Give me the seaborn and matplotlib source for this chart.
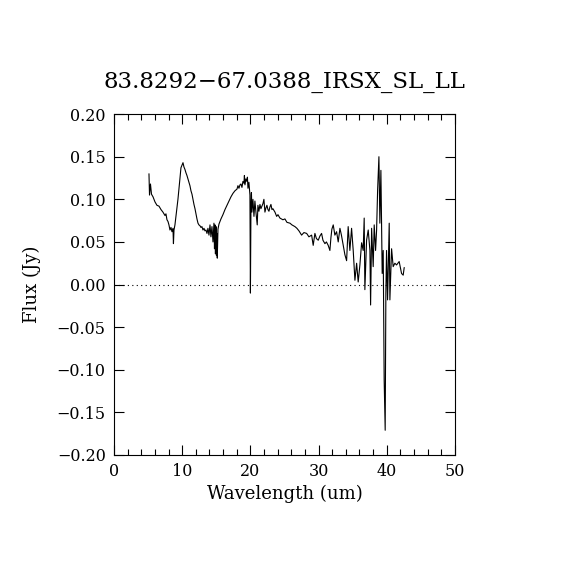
import numpy as np
import pandas as pd
import matplotlib
matplotlib.use("Agg")
import matplotlib.pyplot as plt
import seaborn as sns

# スペクトルのデータ
wavelength = [5.13, 5.21, 5.35, 5.50, 5.72, 6.01, 6.30, 6.60, 6.89, 7.18, 7.48, 7.62, 7.77, 7.92,
              8.06, 8.21, 8.36, 8.50, 8.65, 8.72, 8.80, 8.94, 9.09, 9.24, 9.38, 9.53, 9.68, 9.82,
              9.97, 10.12, 10.26, 10.41, 10.56, 10.70, 10.85, 11.00, 11.14, 11.29, 11.44, 11.58,
              11.73, 11.88, 12.02, 12.17, 12.32, 12.46, 12.61, 12.76, 12.90, 13.05, 13.20, 13.34,
              13.49, 13.64, 13.78, 13.93, 14.08, 14.22, 14.37, 14.52, 14.66, 14.74, 14.81, 14.88,
              14.96, 15.03, 15.10, 15.15, 15.25, 15.40, 15.69, 15.98, 16.28, 16.57, 16.86, 17.16,
              17.45, 17.74, 18.04, 18.18, 18.33, 18.48, 18.62, 18.77, 18.91, 19.06, 19.13, 19.21,
              19.35, 19.50, 19.57, 19.65, 19.79, 19.94, 20.01, 20.09, 20.16, 20.23, 20.38, 20.53,
              20.67, 20.82, 21.01, 21.11, 21.26, 21.41, 21.55, 21.70, 21.85, 21.99, 22.14, 22.29,
              22.43, 22.58, 22.73, 22.87, 23.02, 23.17, 23.31, 23.61, 23.86, 24.05, 24.34, 24.78,
              25.07, 25.37, 25.81, 26.10, 26.54, 26.83, 27.13, 27.52, 27.86, 28.26, 28.59, 28.99,
              29.22, 29.47, 29.69, 29.96, 30.21, 30.45, 30.65, 30.94, 31.16, 31.42, 31.67, 31.82,
              31.96, 32.16, 32.40, 32.65, 32.89, 33.14, 33.36, 33.62, 33.87, 34.12, 34.35, 34.60,
              34.85, 35.09, 35.34, 35.59, 35.82, 36.07, 36.32, 36.55, 36.70, 36.80, 37.05, 37.29,
              37.54, 37.64, 37.79, 38.02, 38.17, 38.37, 38.52, 38.67, 38.86, 39.00, 39.15, 39.34,
              39.49, 39.63, 39.78, 39.88, 39.98, 40.13, 40.28, 40.37, 40.47, 40.72, 40.95, 41.20,
              41.45, 41.83, 42.18, 42.42, 42.57]
flux = [0.130, 0.105, 0.118, 0.106, 0.103, 0.097, 0.093, 0.092, 0.088, 0.085, 0.081, 0.083, 0.076, 0.074,
        0.070, 0.064, 0.067, 0.062, 0.066, 0.048, 0.064, 0.070, 0.080, 0.090, 0.100, 0.112, 0.125, 0.137,
        0.140, 0.143, 0.138, 0.135, 0.131, 0.128, 0.124, 0.120, 0.116, 0.110, 0.106, 0.100,
        0.094, 0.089, 0.083, 0.077, 0.072, 0.070, 0.069, 0.067, 0.068, 0.064, 0.066, 0.063,
        0.064, 0.060, 0.066, 0.058, 0.070, 0.056, 0.068, 0.050, 0.072, 0.042, 0.070, 0.036,
        0.068, 0.034, 0.060, 0.031, 0.065, 0.071, 0.077, 0.082, 0.088, 0.093, 0.098, 0.103,
        0.107, 0.110, 0.112, 0.116, 0.113, 0.117, 0.118, 0.114, 0.121, 0.119, 0.128, 0.117,
        0.124, 0.121, 0.126, 0.113, 0.120, 0.105, -0.010, 0.093, 0.108, 0.085, 0.100, 0.080,
        0.098, 0.085, 0.070, 0.093, 0.086, 0.094, 0.089, 0.092, 0.095, 0.100, 0.085, 0.090,
        0.093, 0.088, 0.086, 0.091, 0.094, 0.088, 0.089, 0.085, 0.080, 0.082, 0.078, 0.076,
        0.077, 0.073, 0.072, 0.070, 0.068, 0.066, 0.063, 0.058, 0.061, 0.060, 0.056, 0.058,
        0.046, 0.060, 0.054, 0.052, 0.057, 0.060, 0.052, 0.048, 0.050, 0.046, 0.040, 0.055,
        0.065, 0.070, 0.058, 0.062, 0.050, 0.066, 0.058, 0.046, 0.035, 0.028, 0.068, 0.040,
        0.066, 0.040, 0.005, 0.025, 0.003, 0.023, 0.049, 0.040, 0.078, -0.006, 0.052, 0.064,
        0.040, -0.024, 0.066, 0.021, 0.070, 0.040, 0.064, 0.111, 0.150, 0.072, 0.134, 0.013,
        0.040, -0.112, -0.171, -0.010, 0.040, -0.018, 0.037, 0.072, -0.018, 0.042, 0.021, 0.025,
        0.023, 0.027, 0.013, 0.011, 0.020]

title = "83.8292\u221267.0388_IRSX_SL_LL"
x_ticks = [0, 10, 20, 30, 40, 50]
y_ticks = [-0.20, -0.15, -0.10, -0.05, 0.00, 0.05, 0.10, 0.15, 0.20]

df = pd.DataFrame({"wavelength": wavelength, "flux": flux})

sns.set_style("ticks")
plt.rcParams['font.family'] = ['DejaVu Serif', 'DejaVu Sans']
plt.rcParams['axes.unicode_minus'] = True
plt.rcParams['text.color'] = 'black'
plt.rcParams['axes.labelcolor'] = 'black'

fig = plt.figure(figsize=(5.7, 5.7), dpi=100)
ax = fig.add_axes([0.2, 0.2018, 0.598, 0.598])

sns.lineplot(data=df, x="wavelength", y="flux", sort=False, estimator=None,
             color="black", linewidth=0.8, ax=ax)
ax.axhline(0, color="black", linestyle=(0, (1, 3)), linewidth=0.8)

ax.set_xlim(0, 50)
ax.set_ylim(-0.2, 0.2)
ax.set_xticks(x_ticks)
ax.set_xticks(np.arange(0, 51, 2), minor=True)
ax.set_yticks(y_ticks)
ax.set_yticklabels(["\u2212%.2f" % abs(v) if v < 0 else "%.2f" % v for v in y_ticks])

ax.tick_params(which="both", direction="in", top=True, right=True, colors="black",
               labelsize=11.5, width=0.8, pad=6)
ax.tick_params(which="major", length=7)
ax.tick_params(which="minor", length=4)
for s in ax.spines.values():
    s.set_linewidth(0.8)
    s.set_color("black")

ax.set_xlabel("Wavelength (um)", fontsize=13, labelpad=3, color="black")
ax.set_ylabel("Flux (Jy)", fontsize=13, labelpad=11, color="black")
ax.set_title(title, fontsize=16.5, pad=19, color="black")

fig.savefig("out.png", dpi=100, facecolor="white")
